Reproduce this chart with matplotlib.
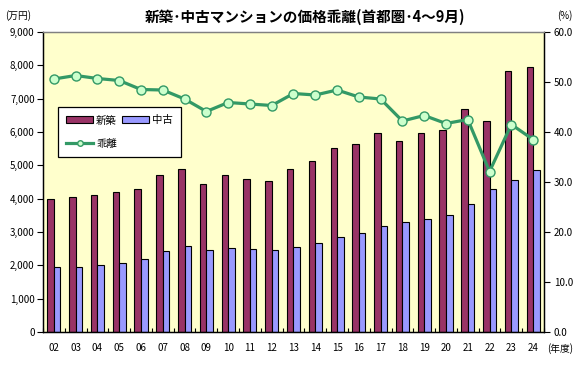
import matplotlib
matplotlib.use("Agg")
import matplotlib.pyplot as plt
import numpy as np
from matplotlib.lines import Line2D
from matplotlib.patches import Patch
from matplotlib.ticker import FuncFormatter, MultipleLocator

plt.rcParams["font.family"] = ["Noto Sans CJK JP", "DejaVu Sans"]

# fiscal years (two-digit labels)
years = ["02", "03", "04", "05", "06", "07", "08", "09", "10", "11", "12",
         "13", "14", "15", "16", "17", "18", "19", "20", "21", "22", "23", "24"]
# new condos (10k yen)
new_price = [3980, 4040, 4100, 4190, 4300, 4720, 4880, 4430, 4700, 4580, 4520,
             4900, 5120, 5530, 5650, 5985, 5745, 5985, 6070, 6680, 6316, 7830, 7950]
# used condos (10k yen)
used_price = [1965, 1965, 2025, 2085, 2200, 2440, 2590, 2470, 2530, 2500, 2470,
              2560, 2680, 2860, 2980, 3190, 3310, 3395, 3525, 3845, 4300, 4570, 4870]
# price gap (%)
gap_pct = [50.6, 51.3, 50.7, 50.3, 48.5, 48.4, 46.6, 44.1, 45.9, 45.6, 45.3,
           47.7, 47.4, 48.4, 47.0, 46.6, 42.2, 43.3, 41.7, 42.5, 32.1, 41.5, 38.5]

NEW_COLOR = "#993366"
USED_COLOR = "#9999FF"
LINE_COLOR = "#339966"
MARK_FACE = "#CCFFCC"

fig = plt.figure(figsize=(5.78, 3.65), dpi=100)
ax = fig.add_axes([43 / 578, 1 - 332 / 365, 501 / 578, 300 / 365])
ax.set_facecolor("#FFFFCC")

x = np.arange(len(years))
bw = 0.3
ax.bar(x - bw / 2, new_price, width=bw, color=NEW_COLOR, edgecolor="black",
       linewidth=0.8, zorder=2)
ax.bar(x + bw / 2, used_price, width=bw, color=USED_COLOR, edgecolor="black",
       linewidth=0.8, zorder=2)

ax.set_xlim(-0.5, len(years) - 0.5)
ax.set_ylim(0, 9000)
ax.yaxis.set_major_locator(MultipleLocator(1000))
ax.yaxis.set_major_formatter(FuncFormatter(lambda v, p: f"{int(v):,}"))
ax.set_xticks(x)
ax.set_xticklabels(years)
ax.set_xticks(np.arange(-0.5, len(years), 1.0), minor=True)
ax.tick_params(axis="x", which="major", length=0, pad=8, labelsize=7)
ax.tick_params(axis="x", which="minor", direction="in", length=3, width=0.8)
ax.tick_params(axis="y", which="major", direction="out", length=4, width=0.8,
               pad=2, labelsize=7)

ax2 = ax.twinx()
ax2.plot(x, gap_pct, color=LINE_COLOR, linewidth=2.3, marker="o",
         markersize=6.5, markerfacecolor=MARK_FACE, markeredgecolor=LINE_COLOR,
         markeredgewidth=1.0, zorder=3)
ax2.set_ylim(0, 60)
ax2.yaxis.set_major_locator(MultipleLocator(10))
ax2.yaxis.set_major_formatter(FuncFormatter(lambda v, p: f"{v:.1f}"))
ax2.tick_params(axis="y", which="major", direction="out", length=4, width=0.8,
                pad=3, labelsize=7)

for a in (ax, ax2):
    for s in a.spines.values():
        s.set_linewidth(0.9)
        s.set_color("black")
    a.spines["top"].set_color("#808080")

# column-wise fill: col 1 = 新築 / 乖離, col 2 = 中古
handles = [Patch(facecolor=NEW_COLOR, edgecolor="black", linewidth=0.8),
           Line2D([], [], color=LINE_COLOR, linewidth=2.3, marker="o",
                  markersize=4, markerfacecolor=MARK_FACE,
                  markeredgecolor=LINE_COLOR),
           Patch(facecolor=USED_COLOR, edgecolor="black", linewidth=0.8)]
labels = ["新築", "乖離", "中古"]
leg = ax2.legend(handles, labels, loc="upper left", bbox_to_anchor=(0.03, 0.75),
                 borderaxespad=0, ncol=2, fontsize=7.5, frameon=True,
                 fancybox=False, edgecolor="black", framealpha=1.0,
                 handlelength=2.6, handleheight=0.6, columnspacing=0.5,
                 borderpad=0.8, labelspacing=1.3, handletextpad=0.25)
leg.get_frame().set_linewidth(0.9)

fig.text(305 / 578, 1 - 17 / 365, "新築･中古マンションの価格乖離(首都圏･4～9月)",
         ha="center", va="center", fontsize=10.5, fontweight="bold")
fig.text(5 / 578, 1 - 16 / 365, "(万円)", ha="left", va="center", fontsize=7)
fig.text(573 / 578, 1 - 16 / 365, "(%)", ha="right", va="center", fontsize=7)
fig.text(573 / 578, 1 - 349 / 365, "(年度)", ha="right", va="center", fontsize=7)

fig.savefig("out.png", dpi=100)
